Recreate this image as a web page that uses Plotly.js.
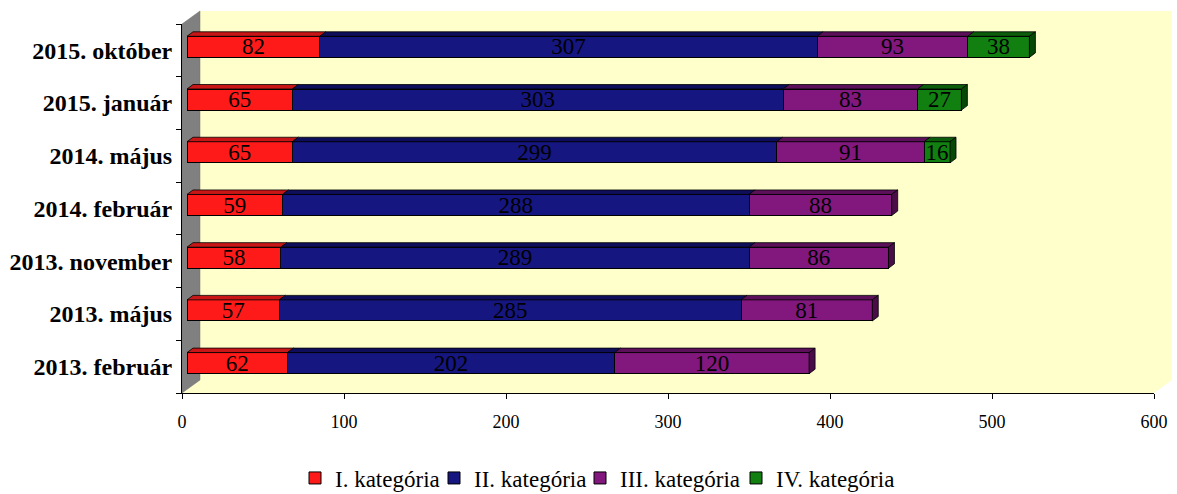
<!DOCTYPE html>
<html><head><meta charset="utf-8">
<script src="https://cdn.plot.ly/plotly-3.0.1.min.js"></script>
<style>html,body{margin:0;padding:0;background:#fff}#chart{width:1177px;height:494px}</style>
</head><body><div id="chart"></div>
<script>
// ---- data ----
const categories = ['2013. február','2013. május','2013. november','2014. február','2014. május','2015. január','2015. október'];
const seriesNames = ['I. kategória','II. kategória','III. kategória','IV. kategória'];
const catI   = [62, 57, 58, 59, 65, 65, 82];
const catII  = [202, 285, 289, 288, 299, 303, 307];
const catIII = [120, 81, 86, 88, 91, 83, 93];
const catIV  = [null, null, null, null, 16, 27, 38];
const xTickVals = [0, 100, 200, 300, 400, 500, 600];

// ---- style / layout ----
const W = 1177, H = 494, ML = 182, MR = 23, MT = 24, MB = 101;
const plotW = W - ML - MR, plotH = H - MT - MB;
const X_MAX = 600;
const unitPerPx = X_MAX / plotW;
const catPerPx = categories.length / plotH;
const BAR_SHIFT_X_PX = 5, BAR_SHIFT_Y_PX = 3.5;
const DEPTH_X_PX = 6, DEPTH_Y_PX = 4.5;
const WALL_X_PX = 18, WALL_Y_PX = 13;
const BAR_W = 0.4;
const FONT = 'Liberation Serif';
const frontColors = ['#FF1A1A', '#161680', '#82187E', '#118011'];
const topColors   = ['#C81616', '#0E0E5A', '#5C105A', '#0B5C0B'];
const sideColors  = ['#A01010', '#0A0A48', '#4A0D48', '#064806'];
const legendItemWidths = [94, 101, 111, 121];
const LEGEND_LEFT_PX = 295, LEGEND_MID_Y_PX = 478;

const seriesValues = [catI, catII, catIII, catIV];
const shiftY = BAR_SHIFT_Y_PX * catPerPx;
const dxU = DEPTH_X_PX * unitPerPx, dyU = DEPTH_Y_PX * catPerPx;

const traces = seriesValues.map((vals, i) => ({
  type: 'bar', orientation: 'h', name: seriesNames[i],
  y: categories, x: vals, xaxis: 'x2', yaxis: 'y',
  width: BAR_W, offset: -BAR_W / 2 + shiftY,
  marker: {color: frontColors[i], line: {color: '#000', width: 1}},
  texttemplate: '%{x}', textposition: 'inside', insidetextanchor: 'middle',
  textangle: 0, constraintext: 'none', cliponaxis: false,
  textfont: {family: FONT, size: 23, color: '#000'},
  legendwidth: legendItemWidths[i],
  hoverinfo: 'skip'
}));
// invisible helper trace so the visible value axis (x) gets drawn
traces.push({type: 'scatter', mode: 'markers', x: [xTickVals[0]], y: [categories[0]],
  xaxis: 'x', yaxis: 'y', marker: {opacity: 0}, showlegend: false, hoverinfo: 'skip'});

// 3D faces computed from the data
const shapes = [];
const wx = WALL_X_PX / plotW, wy = WALL_Y_PX / plotH;
shapes.push({type: 'path', xref: 'paper', yref: 'paper', layer: 'below',
  path: `M ${wx},${1 + wy} L ${1 + wx},${1 + wy} L ${1 + wx},${wy} L 1,0 L 0,0 L ${wx},${wy} Z`,
  fillcolor: '#FFFFCC', line: {width: 0}});
shapes.push({type: 'path', xref: 'paper', yref: 'paper', layer: 'below',
  path: `M 0,1 L ${wx},${1 + wy} L ${wx},${wy} L 0,0 Z`,
  fillcolor: '#808080', line: {color: '#707070', width: 0.5}});

categories.forEach((c, j) => {
  let cum = 0, lastI = -1, lastE = 0;
  const cy = j + shiftY, h = BAR_W / 2;
  seriesValues.forEach((vals, i) => {
    const v = vals[j];
    if (v == null) return;
    const s = cum, e = cum + v;
    shapes.push({type: 'path', xref: 'x2', yref: 'y', layer: 'above',
      path: `M ${s},${cy + h} L ${s + dxU},${cy + h + dyU} L ${e + dxU},${cy + h + dyU} L ${e},${cy + h} Z`,
      fillcolor: topColors[i], line: {color: '#000', width: 0.8}});
    cum = e; lastI = i; lastE = e;
  });
  if (lastI >= 0) {
    shapes.push({type: 'path', xref: 'x2', yref: 'y', layer: 'above',
      path: `M ${lastE},${cy - h} L ${lastE + dxU},${cy - h + dyU} L ${lastE + dxU},${cy + h + dyU} L ${lastE},${cy + h} Z`,
      fillcolor: sideColors[lastI], line: {color: '#000', width: 0.8}});
  }
});

const layout = {
  width: W, height: H,
  margin: {l: ML, r: MR, t: MT, b: MB, pad: 0, autoexpand: false},
  paper_bgcolor: '#fff', plot_bgcolor: 'rgba(0,0,0,0)',
  barmode: 'stack', showlegend: true,
  font: {family: FONT, color: '#000'},
  xaxis: {range: [0, X_MAX], tickvals: xTickVals, ticks: 'outside', ticklen: 5, tickcolor: '#000',
    showline: true, linecolor: '#000', linewidth: 1, showgrid: false, zeroline: false,
    ticklabelstandoff: 7, automargin: false,
    tickfont: {family: FONT, size: 18, color: '#000'}, fixedrange: true},
  xaxis2: {overlaying: 'x', range: [-BAR_SHIFT_X_PX * unitPerPx, X_MAX - BAR_SHIFT_X_PX * unitPerPx],
    visible: false, showgrid: false, zeroline: false, fixedrange: true},
  yaxis: {type: 'category', categoryorder: 'array', categoryarray: categories,
    range: [-0.5, categories.length - 0.5], tickson: 'boundaries', ticks: 'outside', ticklen: 5,
    tickcolor: '#000', showline: true, linecolor: '#000', linewidth: 1, showgrid: false, zeroline: false,
    ticklabelstandoff: 4, automargin: false,
    tickfont: {family: FONT, size: 24, color: '#000', weight: 'bold'}, fixedrange: true},
  legend: {orientation: 'h', x: (LEGEND_LEFT_PX - ML) / plotW, xanchor: 'left',
    y: -(LEGEND_MID_Y_PX - (H - MB)) / plotH, yanchor: 'middle',
    font: {family: FONT, size: 23, color: '#000'}, traceorder: 'normal',
    itemclick: false, itemdoubleclick: false},
  shapes: shapes
};

Plotly.newPlot('chart', traces, layout, {displayModeBar: false, staticPlot: true});
</script>
</body></html>
